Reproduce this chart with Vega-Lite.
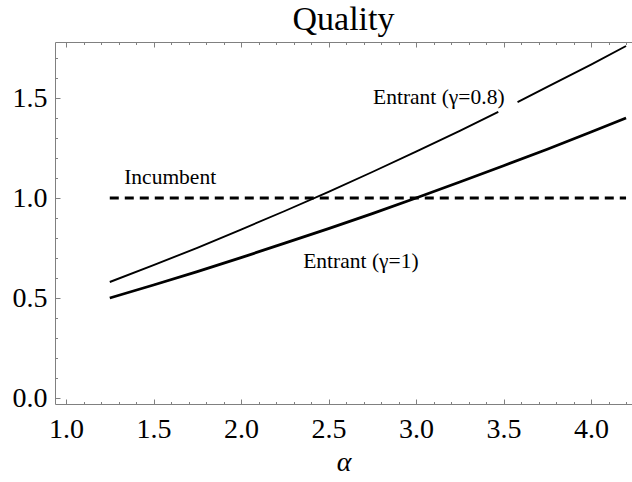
{
  "$schema": "https://vega.github.io/schema/vega-lite/v6.json",
  "width": 577,
  "height": 362,
  "autosize": {"type": "none"},
  "padding": {"left": 55, "top": 42, "right": 0, "bottom": 78},
  "background": "white",
  "title": {"text": "Quality", "font": "Liberation Serif", "fontSize": 34, "fontWeight": "normal", "color": "black", "offset": 5},
  "config": {
    "view": {"stroke": null},
    "axis": {"grid": false, "labelFont": "Liberation Serif", "titleFont": "Liberation Serif", "labelColor": "black", "titleColor": "black", "domainColor": "#808080", "tickColor": "#808080", "tickCount": 100, "labelOverlap": false, "labelFlush": false}
  },
  "datasets": {
    "curves": [
      {"series": "g1", "part": "a", "alpha": 1.25, "q": 0.50},
      {"series": "g1", "part": "a", "alpha": 1.5, "q": 0.565},
      {"series": "g1", "part": "a", "alpha": 1.75, "q": 0.632},
      {"series": "g1", "part": "a", "alpha": 2.0, "q": 0.702},
      {"series": "g1", "part": "a", "alpha": 2.25, "q": 0.774},
      {"series": "g1", "part": "a", "alpha": 2.5, "q": 0.847},
      {"series": "g1", "part": "a", "alpha": 2.75, "q": 0.922},
      {"series": "g1", "part": "a", "alpha": 3.0, "q": 1.0},
      {"series": "g1", "part": "a", "alpha": 3.25, "q": 1.080},
      {"series": "g1", "part": "a", "alpha": 3.5, "q": 1.161},
      {"series": "g1", "part": "a", "alpha": 3.75, "q": 1.244},
      {"series": "g1", "part": "a", "alpha": 4.0, "q": 1.330},
      {"series": "g1", "part": "a", "alpha": 4.2, "q": 1.40},
      {"series": "g08", "part": "a", "alpha": 1.25, "q": 0.58},
      {"series": "g08", "part": "a", "alpha": 1.5, "q": 0.664},
      {"series": "g08", "part": "a", "alpha": 1.75, "q": 0.751},
      {"series": "g08", "part": "a", "alpha": 2.0, "q": 0.842},
      {"series": "g08", "part": "a", "alpha": 2.25, "q": 0.935},
      {"series": "g08", "part": "a", "alpha": 2.5, "q": 1.031},
      {"series": "g08", "part": "a", "alpha": 2.75, "q": 1.130},
      {"series": "g08", "part": "a", "alpha": 3.0, "q": 1.232},
      {"series": "g08", "part": "a", "alpha": 3.25, "q": 1.336},
      {"series": "g08", "part": "a", "alpha": 3.47, "q": 1.431},
      {"series": "g08", "part": "b", "alpha": 3.58, "q": 1.479},
      {"series": "g08", "part": "b", "alpha": 3.75, "q": 1.556},
      {"series": "g08", "part": "b", "alpha": 4.0, "q": 1.667},
      {"series": "g08", "part": "b", "alpha": 4.2, "q": 1.76}
    ],
    "incumbent": [
      {"alpha": 1.25, "q": 1.0},
      {"alpha": 4.2, "q": 1.0}
    ],
    "labels": [
      {"text": "Incumbent", "alpha": 1.595, "q": 1.10},
      {"text": "Entrant (γ=0.8)", "alpha": 3.13, "q": 1.50},
      {"text": "Entrant (γ=1)", "alpha": 2.685, "q": 0.68}
    ]
  },
  "resolve": {"axis": {"x": "independent", "y": "independent"}},
  "layer": [
    {
      "data": {"name": "curves"},
      "mark": {"type": "line", "color": "black"},
      "encoding": {
        "x": {"field": "alpha", "type": "quantitative", "scale": {"domain": [0.937, 4.234], "nice": false, "zero": false},
          "axis": {"orient": "bottom", "title": "α", "titleFontSize": 28, "titleFontStyle": "italic", "titleFontWeight": "normal", "titlePadding": 5,
            "values": [1.0, 1.5, 2.0, 2.5, 3.0, 3.5, 4.0], "format": ".1f",
            "labelFontSize": 28, "tickSize": -5, "labelPadding": 16, "domain": true}},
        "y": {"field": "q", "type": "quantitative", "scale": {"domain": [-0.03, 1.78], "nice": false, "zero": false},
          "axis": {"orient": "left", "title": null,
            "values": [0, 0.5, 1.0, 1.5], "format": ".1f",
            "labelFontSize": 28, "tickSize": -5, "labelPadding": 13, "domain": true}},
        "detail": {"field": "part"},
        "strokeWidth": {"field": "series", "type": "nominal", "scale": {"domain": ["g1", "g08"], "range": [2.8, 1.9]}, "legend": null}
      }
    },
    {
      "data": {"name": "incumbent"},
      "mark": {"type": "line", "color": "black", "strokeWidth": 2.8, "strokeDash": [9, 6]},
      "encoding": {
        "x": {"field": "alpha", "type": "quantitative",
          "axis": {"orient": "bottom", "title": null, "labels": false, "domain": false, "tickSize": -2.5,
            "values": [1.1,1.2,1.3,1.4,1.6,1.7,1.8,1.9,2.1,2.2,2.3,2.4,2.6,2.7,2.8,2.9,3.1,3.2,3.3,3.4,3.6,3.7,3.8,3.9,4.1,4.2]}},
        "y": {"field": "q", "type": "quantitative",
          "axis": {"orient": "left", "title": null, "labels": false, "domain": false, "tickSize": -2.5,
            "values": [0.1,0.2,0.3,0.4,0.6,0.7,0.8,0.9,1.1,1.2,1.3,1.4,1.6,1.7]}}
      }
    },
    {
      "data": {"name": "labels"},
      "mark": {"type": "text", "font": "Liberation Serif", "fontSize": 21.5, "color": "black"},
      "encoding": {
        "x": {"field": "alpha", "type": "quantitative",
          "axis": {"orient": "top", "title": null, "labels": false, "domain": true, "tickSize": -5,
            "values": [1.0, 1.5, 2.0, 2.5, 3.0, 3.5, 4.0]}},
        "y": {"field": "q", "type": "quantitative", "axis": null},
        "text": {"field": "text"}
      }
    },
    {
      "data": {"name": "incumbent"},
      "mark": {"type": "line", "opacity": 0},
      "encoding": {
        "x": {"field": "alpha", "type": "quantitative",
          "axis": {"orient": "top", "title": null, "labels": false, "domain": false, "tickSize": -2.5,
            "values": [1.1,1.2,1.3,1.4,1.6,1.7,1.8,1.9,2.1,2.2,2.3,2.4,2.6,2.7,2.8,2.9,3.1,3.2,3.3,3.4,3.6,3.7,3.8,3.9,4.1,4.2]}},
        "y": {"field": "q", "type": "quantitative", "axis": null}
      }
    }
  ]
}
